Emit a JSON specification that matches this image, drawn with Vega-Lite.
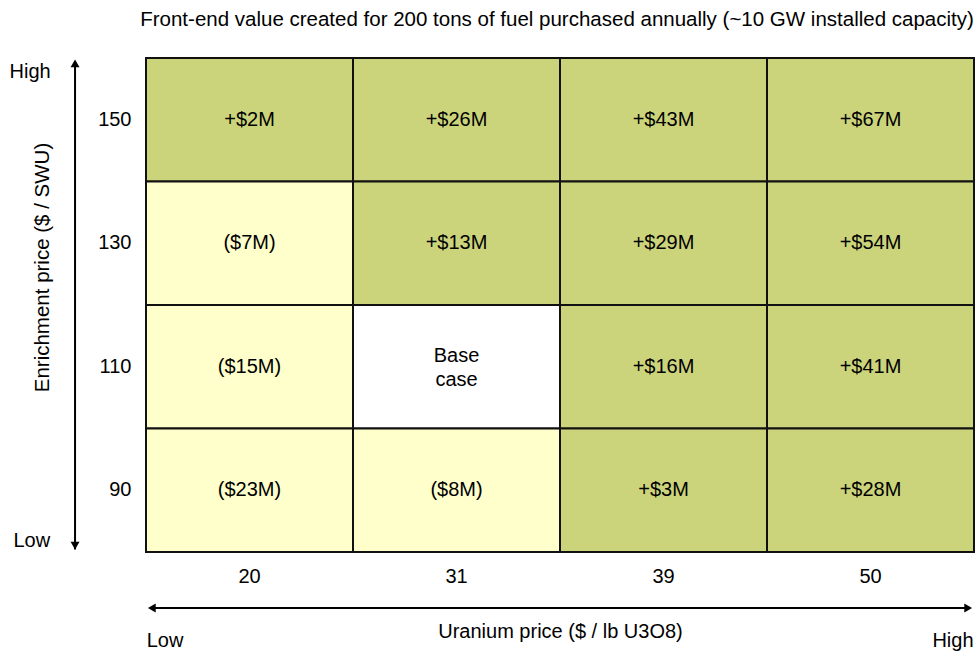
{
  "$schema": "https://vega.github.io/schema/vega-lite/v6.json",
  "width": 828,
  "height": 494,
  "autosize": "none",
  "padding": {"left": 146, "top": 58, "right": 6, "bottom": 100},
  "config": {"font": "Liberation Sans", "view": {"stroke": null}},
  "title": {
    "text": "Front-end value created for 200 tons of fuel purchased annually (~10 GW installed capacity)",
    "fontSize": 20.5,
    "fontWeight": "normal",
    "color": "#000000",
    "anchor": "middle",
    "offset": 27,
    "dx": -3
  },
  "layer": [
    {
      "data": {
        "values": [
          {"uranium": 20, "enrichment": 150, "value": 2, "case": "gain", "label": "+$2M"},
          {"uranium": 31, "enrichment": 150, "value": 26, "case": "gain", "label": "+$26M"},
          {"uranium": 39, "enrichment": 150, "value": 43, "case": "gain", "label": "+$43M"},
          {"uranium": 50, "enrichment": 150, "value": 67, "case": "gain", "label": "+$67M"},
          {"uranium": 20, "enrichment": 130, "value": -7, "case": "loss", "label": "($7M)"},
          {"uranium": 31, "enrichment": 130, "value": 13, "case": "gain", "label": "+$13M"},
          {"uranium": 39, "enrichment": 130, "value": 29, "case": "gain", "label": "+$29M"},
          {"uranium": 50, "enrichment": 130, "value": 54, "case": "gain", "label": "+$54M"},
          {"uranium": 20, "enrichment": 110, "value": -15, "case": "loss", "label": "($15M)"},
          {"uranium": 31, "enrichment": 110, "value": 0, "case": "base", "label": "Base\ncase"},
          {"uranium": 39, "enrichment": 110, "value": 16, "case": "gain", "label": "+$16M"},
          {"uranium": 50, "enrichment": 110, "value": 41, "case": "gain", "label": "+$41M"},
          {"uranium": 20, "enrichment": 90, "value": -23, "case": "loss", "label": "($23M)"},
          {"uranium": 31, "enrichment": 90, "value": -8, "case": "loss", "label": "($8M)"},
          {"uranium": 39, "enrichment": 90, "value": 3, "case": "gain", "label": "+$3M"},
          {"uranium": 50, "enrichment": 90, "value": 28, "case": "gain", "label": "+$28M"}
        ]
      },
      "encoding": {
        "x": {
          "field": "uranium",
          "type": "ordinal",
          "scale": {"paddingInner": 0, "paddingOuter": 0},
          "axis": {
            "title": "Uranium price ($ / lb U3O8)",
            "titleFontSize": 20,
            "titleFontWeight": "normal",
            "titleColor": "#000000",
            "titleBaseline": "middle",
            "titleY": 79,
            "labelFontSize": 20,
            "labelColor": "#000000",
            "labelAngle": 0,
            "labelPadding": 14,
            "ticks": false,
            "domain": false
          }
        },
        "y": {
          "field": "enrichment",
          "type": "ordinal",
          "sort": "descending",
          "scale": {"paddingInner": 0, "paddingOuter": 0},
          "axis": {
            "title": "Enrichment price ($ / SWU)",
            "titleFontSize": 20.5,
            "titleFontWeight": "normal",
            "titleColor": "#000000",
            "titleAlign": "center",
            "titleBaseline": "middle",
            "titleX": -104,
            "titleY": 209,
            "labelFontSize": 20,
            "labelColor": "#000000",
            "labelPadding": 15,
            "ticks": false,
            "domain": false
          }
        }
      },
      "layer": [
        {
          "mark": {"type": "rect", "stroke": "#111111", "strokeWidth": 2},
          "encoding": {
            "color": {
              "field": "case",
              "type": "nominal",
              "scale": {"domain": ["gain", "loss", "base"], "range": ["#CCD47B", "#FFFFCC", "#FFFFFF"]},
              "legend": null
            }
          }
        },
        {
          "transform": [{"filter": "datum.case !== 'base'"}],
          "mark": {"type": "text", "fontSize": 20, "color": "#000000"},
          "encoding": {"text": {"field": "label"}}
        },
        {
          "transform": [{"filter": "datum.case === 'base'"}],
          "mark": {"type": "text", "fontSize": 20, "color": "#000000", "lineBreak": "\n", "lineHeight": 24, "dy": -11},
          "encoding": {"text": {"field": "label"}}
        }
      ]
    },
    {
      "data": {"values": [{}]},
      "layer": [
        {
          "mark": {"type": "rule", "color": "#000000", "strokeWidth": 2},
          "encoding": {
            "x": {"datum": -0.0857, "type": "quantitative", "scale": {"domain": [0, 1], "nice": false, "zero": false}, "axis": null},
            "y": {"datum": 0.005, "type": "quantitative", "scale": {"domain": [0, 1], "nice": false, "zero": false}, "axis": null},
            "y2": {"datum": 0.99}
          }
        },
        {
          "mark": {"type": "rule", "color": "#000000", "strokeWidth": 2},
          "encoding": {
            "x": {"datum": 0.005, "type": "quantitative", "scale": {"domain": [0, 1], "nice": false, "zero": false}, "axis": null},
            "x2": {"datum": 0.995},
            "y": {"datum": -0.1134, "type": "quantitative", "scale": {"domain": [0, 1], "nice": false, "zero": false}, "axis": null}
          }
        },
        {
          "mark": {"type": "point", "shape": "triangle-up", "filled": true, "color": "#000000", "opacity": 1, "size": 80},
          "encoding": {
            "x": {"datum": -0.0857, "type": "quantitative", "scale": {"domain": [0, 1], "nice": false, "zero": false}, "axis": null},
            "y": {"datum": 0.989, "type": "quantitative", "scale": {"domain": [0, 1], "nice": false, "zero": false}, "axis": null}
          }
        },
        {
          "mark": {"type": "point", "shape": "triangle-down", "filled": true, "color": "#000000", "opacity": 1, "size": 80},
          "encoding": {
            "x": {"datum": -0.0857, "type": "quantitative", "scale": {"domain": [0, 1], "nice": false, "zero": false}, "axis": null},
            "y": {"datum": 0.013, "type": "quantitative", "scale": {"domain": [0, 1], "nice": false, "zero": false}, "axis": null}
          }
        },
        {
          "mark": {"type": "point", "shape": "triangle-left", "filled": true, "color": "#000000", "opacity": 1, "size": 80},
          "encoding": {
            "x": {"datum": 0.007, "type": "quantitative", "scale": {"domain": [0, 1], "nice": false, "zero": false}, "axis": null},
            "y": {"datum": -0.1134, "type": "quantitative", "scale": {"domain": [0, 1], "nice": false, "zero": false}, "axis": null}
          }
        },
        {
          "mark": {"type": "point", "shape": "triangle-right", "filled": true, "color": "#000000", "opacity": 1, "size": 80},
          "encoding": {
            "x": {"datum": 0.993, "type": "quantitative", "scale": {"domain": [0, 1], "nice": false, "zero": false}, "axis": null},
            "y": {"datum": -0.1134, "type": "quantitative", "scale": {"domain": [0, 1], "nice": false, "zero": false}, "axis": null}
          }
        },
        {
          "mark": {"type": "text", "text": "High", "fontSize": 20, "color": "#000000", "align": "center", "baseline": "middle"},
          "encoding": {
            "x": {"datum": -0.14, "type": "quantitative", "scale": {"domain": [0, 1], "nice": false, "zero": false}, "axis": null},
            "y": {"datum": 0.9717, "type": "quantitative", "scale": {"domain": [0, 1], "nice": false, "zero": false}, "axis": null}
          }
        },
        {
          "mark": {"type": "text", "text": "Low", "fontSize": 20, "color": "#000000", "align": "center", "baseline": "middle"},
          "encoding": {
            "x": {"datum": -0.138, "type": "quantitative", "scale": {"domain": [0, 1], "nice": false, "zero": false}, "axis": null},
            "y": {"datum": 0.0223, "type": "quantitative", "scale": {"domain": [0, 1], "nice": false, "zero": false}, "axis": null}
          }
        },
        {
          "mark": {"type": "text", "text": "Low", "fontSize": 20, "color": "#000000", "align": "center", "baseline": "middle"},
          "encoding": {
            "x": {"datum": 0.023, "type": "quantitative", "scale": {"domain": [0, 1], "nice": false, "zero": false}, "axis": null},
            "y": {"datum": -0.18, "type": "quantitative", "scale": {"domain": [0, 1], "nice": false, "zero": false}, "axis": null}
          }
        },
        {
          "mark": {"type": "text", "text": "High", "fontSize": 20, "color": "#000000", "align": "center", "baseline": "middle"},
          "encoding": {
            "x": {"datum": 0.9746, "type": "quantitative", "scale": {"domain": [0, 1], "nice": false, "zero": false}, "axis": null},
            "y": {"datum": -0.18, "type": "quantitative", "scale": {"domain": [0, 1], "nice": false, "zero": false}, "axis": null}
          }
        }
      ]
    }
  ],
  "resolve": {"scale": {"x": "independent", "y": "independent", "color": "independent"}}
}
